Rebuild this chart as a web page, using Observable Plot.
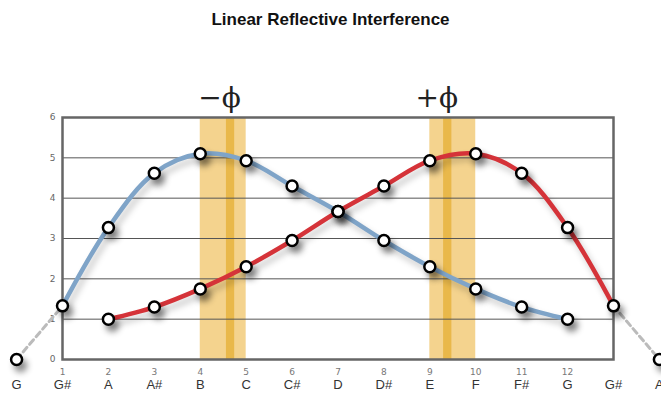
<!DOCTYPE html>
<html><head><meta charset="utf-8">
<script src="https://cdn.jsdelivr.net/npm/d3@7"></script>
<script src="https://cdn.jsdelivr.net/npm/@observablehq/plot@0.6"></script>
<style>
body{margin:0;background:#fff;}
#title{height:40px;text-align:center;font:bold 17px "Liberation Sans",Arial,sans-serif;line-height:40px;color:#111;}
</style></head>
<body>
<div id="title">Linear Reflective Interference</div>
<div id="chart"></div>
<script>
const steps = [1,2,3,4,5,6,7,8,9,10,11,12];
const blueX = [1,2,3,4,5,6,7,8,9,10,11,12];
const blueY = [1.33,3.27,4.62,5.1,4.93,4.3,3.67,2.95,2.3,1.75,1.3,1.0];
const redX = [2,3,4,5,6,7,8,9,10,11,12,13];
const redY = [1.0,1.3,1.75,2.3,2.95,3.67,4.3,4.93,5.1,4.62,3.27,1.33];
const noteX = [0,1,2,3,4,5,6,7,8,9,10,11,12,13,14];
const notes = ["G","G#","A","A#","B","C","C#","D","D#","E","F","F#","G","G#","A"];
const reflectLeft = [{x:0,y:0},{x:1,y:1.33}];
const reflectRight = [{x:13,y:1.33},{x:14,y:0}];
const bands = [{x1:4,x2:5},{x1:9,x2:10}];
const stripes = [{x1:4.57,x2:4.75},{x1:9.3,x2:9.48}];
const phiLabels = [{x:4.42,label:"−ϕ"},{x:9.15,label:"+ϕ"}];

const blue = blueX.map((x,i)=>({x,y:blueY[i]}));
const red = redX.map((x,i)=>({x,y:redY[i]}));
const noteData = noteX.map((x,i)=>({x,label:notes[i]}));
const dotShadow = "drop-shadow(4px 6px 3px rgba(0,0,0,0.45))";
const lineShadow = "drop-shadow(3px 5px 3px rgba(0,0,0,0.22))";

const chart = Plot.plot({
  width:661, height:372,
  marginTop:77, marginBottom:53, marginLeft:62, marginRight:48,
  x:{domain:[1,13], axis:null},
  y:{domain:[0,6], axis:null},
  style:{background:"#fff", fontFamily:"'DejaVu Sans',sans-serif"},
  marks:[
    Plot.rectX(bands,{x1:"x1",x2:"x2",y1:0,y2:6,fill:"#f4d38e"}),
    Plot.rectX(stripes,{x1:"x1",x2:"x2",y1:0,y2:6,fill:"#e9b84a"}),
    Plot.ruleY([1,2,3,4,5],{stroke:"#555",strokeWidth:1}),
    Plot.axisY([0,1,2,3,4,5,6],{tickSize:0,tickPadding:7,fontSize:9,fill:"#666",label:null}),
    Plot.text(steps,{x:d=>d,y:0,dy:13,text:d=>String(d),fontSize:9,fill:"#777"}),
    Plot.text(noteData,{x:"x",y:0,dy:25,text:"label",fontSize:13,fill:"#333",fontFamily:"'Liberation Sans',Arial,sans-serif"}),
    Plot.frame({stroke:"#666",strokeWidth:2.5}),
    Plot.line(reflectLeft,{x:"x",y:"y",stroke:"#bbb",strokeWidth:3,strokeDasharray:"6,4"}),
    Plot.line(reflectRight,{x:"x",y:"y",stroke:"#bbb",strokeWidth:3,strokeDasharray:"6,4"}),
    Plot.line(blue,{x:"x",y:"y",stroke:"#7fa4c8",strokeWidth:4.5,curve:"catmull-rom",imageFilter:lineShadow}),
    Plot.line(red,{x:"x",y:"y",stroke:"#d53339",strokeWidth:4.5,curve:"catmull-rom",imageFilter:lineShadow}),
    Plot.dot(blue,{x:"x",y:"y",r:5.5,fill:"#fff",stroke:"#000",strokeWidth:2.5,imageFilter:dotShadow}),
    Plot.dot(red,{x:"x",y:"y",r:5.5,fill:"#fff",stroke:"#000",strokeWidth:2.5,imageFilter:dotShadow}),
    Plot.dot([reflectLeft[0],reflectRight[1]],{x:"x",y:"y",r:5.5,fill:"#fff",stroke:"#000",strokeWidth:2.5,imageFilter:dotShadow}),
    Plot.text(phiLabels,{x:"x",y:6,dy:-19,text:"label",fontSize:28,fill:"#222",fontFamily:"'DejaVu Serif',serif"})
  ]
});
document.getElementById("chart").appendChild(chart);
</script>
</body></html>
